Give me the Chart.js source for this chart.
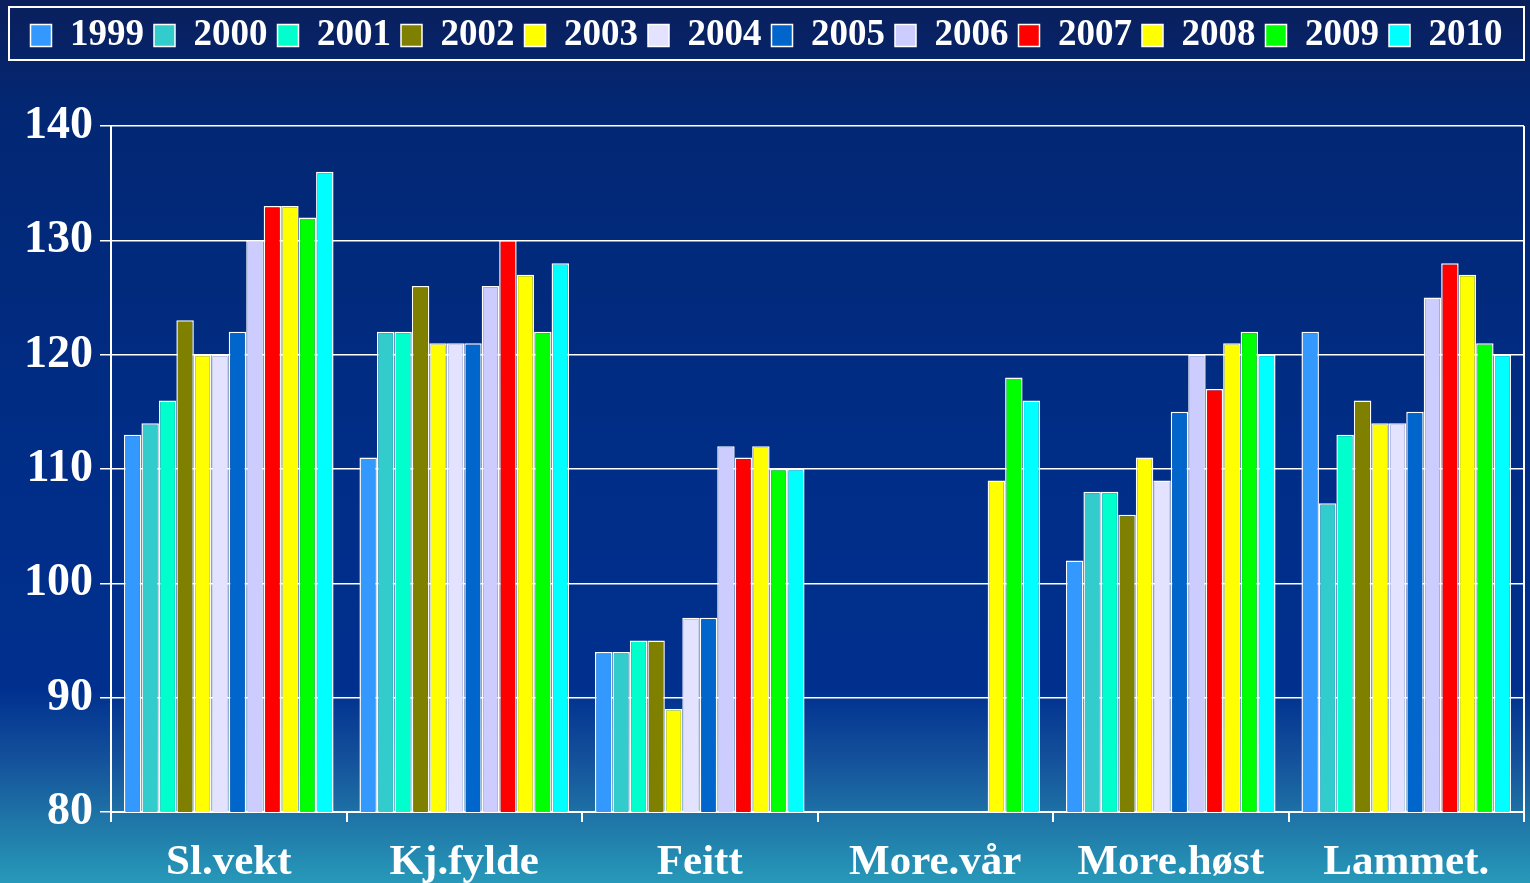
<!DOCTYPE html>
<html>
<head>
<meta charset="utf-8">
<script src="https://cdn.jsdelivr.net/npm/chart.js@4.4.1/dist/chart.umd.min.js"></script>
<style>
  html, body { margin: 0; padding: 0; background: #002a80; }
  #wrap { width: 1530px; height: 883px; }
</style>
</head>
<body>
<div id="wrap"><canvas id="chart" width="1530" height="883"></canvas></div>
<script>
const categories = ["Sl.vekt", "Kj.fylde", "Feitt", "More.vår", "More.høst", "Lammet."];
const years = ["1999", "2000", "2001", "2002", "2003", "2004", "2005", "2006", "2007", "2008", "2009", "2010"];
const colors = ["#3399ff", "#33cccc", "#00ffcc", "#808000", "#ffff00", "#e3e3ff",
                "#0066cc", "#ccccff", "#ff0000", "#ffff00", "#00ff00", "#00ffff"];

// one array per year, in category order
const v1999 = [113, 111, 94, null, 102, 122];
const v2000 = [114, 122, 94, null, 108, 107];
const v2001 = [116, 122, 95, null, 108, 113];
const v2002 = [123, 126, 95, null, 106, 116];
const v2003 = [120, 121, 89, null, 111, 114];
const v2004 = [120, 121, 97, null, 109, 114];
const v2005 = [122, 121, 97, null, 115, 115];
const v2006 = [130, 126, 112, null, 120, 125];
const v2007 = [133, 130, 111, null, 117, 128];
const v2008 = [133, 127, 112, 109, 121, 127];
const v2009 = [132, 122, 110, 118, 122, 121];
const v2010 = [136, 128, 110, 116, 120, 120];
const values = [v1999, v2000, v2001, v2002, v2003, v2004, v2005, v2006, v2007, v2008, v2009, v2010];

const yTicks = [80, 90, 100, 110, 120, 130, 140];

const serif = "'Liberation Serif', 'Times New Roman', serif";
const LEGEND_GAP = 62;

const background = {
  id: "background",
  beforeDraw(chart) {
    const { ctx, width, height } = chart;
    const g = ctx.createLinearGradient(0, 0, 0, height);
    g.addColorStop(0, "#0a1f5c");
    g.addColorStop(0.12, "#032773");
    g.addColorStop(0.5, "#002d86");
    g.addColorStop(0.78, "#00308f");
    g.addColorStop(0.86, "#14519b");
    g.addColorStop(0.93, "#1f76a7");
    g.addColorStop(1, "#2799b9");
    ctx.save();
    ctx.fillStyle = g;
    ctx.fillRect(0, 0, width, height);
    ctx.restore();
  }
};

const legendFrame = {
  id: "legendFrame",
  beforeInit(chart) {
    const fit = chart.legend.fit;
    chart.legend.fit = function () {
      fit.bind(chart.legend)();
      this.height += LEGEND_GAP;
    };
  },
  afterDraw(chart) {
    const l = chart.legend;
    const { ctx } = chart;
    ctx.save();
    ctx.strokeStyle = "#ffffff";
    ctx.lineWidth = 2;
    ctx.strokeRect(l.left, l.top, l.width, l.height - LEGEND_GAP - 4);
    // right edge of the plot frame
    const a = chart.chartArea;
    ctx.beginPath();
    ctx.moveTo(a.right, a.top);
    ctx.lineTo(a.right, a.bottom);
    ctx.stroke();
    ctx.restore();
  }
};

const data = {
  labels: categories,
  datasets: years.map((y, i) => ({
    label: y,
    data: values[i],
    backgroundColor: colors[i],
    borderColor: "#ffffff",
    borderWidth: 1.5,
    categoryPercentage: 0.89,
    barPercentage: 1.0
  }))
};

const config = {
  type: "bar",
  data: data,
  plugins: [background, legendFrame],
  options: {
    responsive: false,
    animation: false,
    layout: { padding: { top: 7, left: 9, right: 6, bottom: 0 } },
    plugins: {
      tooltip: { enabled: false },
      legend: {
        position: "top",
        labels: {
          color: "#ffffff",
          boxWidth: 21,
          boxHeight: 22,
          padding: 10,
          font: { family: serif, size: 37, weight: "bold" }
        }
      }
    },
    scales: {
      x: {
        afterFit: (s) => { s.height = 71; },
        grid: {
          offset: true,
          drawOnChartArea: false,
          drawTicks: true,
          tickLength: 10,
          color: "#ffffff",
          lineWidth: 2
        },
        border: { color: "#ffffff", width: 2 },
        ticks: {
          color: "#ffffff",
          padding: 15,
          font: { family: serif, size: 43, weight: "bold" }
        }
      },
      y: {
        min: 80,
        max: 140,
        afterBuildTicks: (s) => { s.ticks = yTicks.map((v) => ({ value: v })); },
        afterFit: (s) => { s.width = 102; },
        grid: {
          color: "#ffffff",
          lineWidth: 1.5,
          tickLength: 11
        },
        border: { color: "#ffffff", width: 2 },
        ticks: {
          color: "#ffffff",
          padding: 7,
          font: { family: serif, size: 46, weight: "bold" }
        }
      }
    }
  }
};

new Chart(document.getElementById("chart").getContext("2d"), config);
</script>
</body>
</html>
